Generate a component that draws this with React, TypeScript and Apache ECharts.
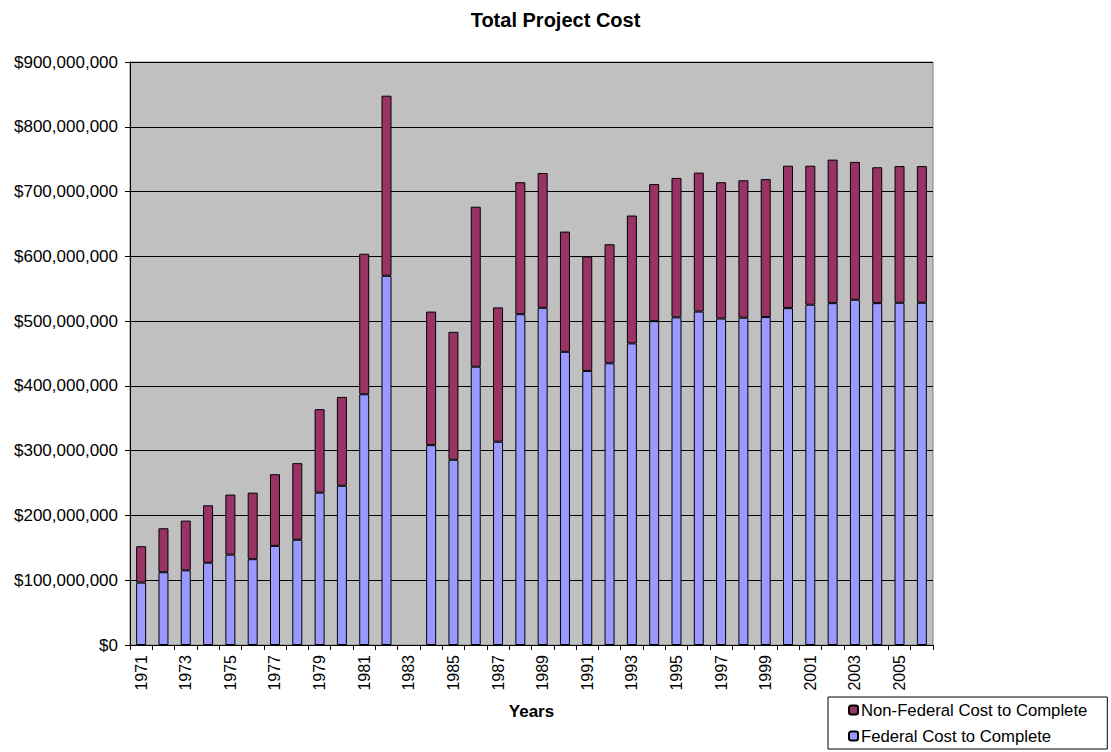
import React, { useEffect, useRef } from "react";
import * as echarts from "echarts";

const years: string[] = [
  "1971", "1972", "1973", "1974", "1975", "1976", "1977", "1978", "1979", "1980",
  "1981", "1982", "1983", "1984", "1985", "1986", "1987", "1988", "1989", "1990",
  "1991", "1992", "1993", "1994", "1995", "1996", "1997", "1998", "1999", "2000",
  "2001", "2002", "2003", "2004", "2005", "2006",
];

// Federal cost to complete (USD)
const federal: (number | null)[] = [
  96300000, 112300000, 115200000, 127000000, 139500000, 132400000, 153000000, 162500000, 235200000, 245800000,
  387000000, 570000000, null, 308500000, 286000000, 429600000, 313800000, 510600000, 520600000, 452600000,
  423100000, 434900000, 465600000, 499900000, 505800000, 514700000, 504000000, 505300000, 506400000, 520000000,
  525300000, 527700000, 533000000, 527700000, 528300000, 528300000,
];

// Total project cost (USD), used to derive non-federal share
const total: (number | null)[] = [
  152500000, 180200000, 192000000, 215700000, 232200000, 235200000, 263600000, 280700000, 364000000, 383000000,
  604000000, 848000000, null, 514700000, 483400000, 676600000, 521200000, 714400000, 728600000, 638200000,
  599800000, 618700000, 663000000, 711500000, 721000000, 729200000, 714400000, 717400000, 719200000, 739900000,
  739900000, 749300000, 745800000, 737500000, 739300000, 739300000,
];

const nonFederal: (number | null)[] = total.map((t, i) =>
  t == null || federal[i] == null ? null : t - (federal[i] as number)
);

const yTicks: number[] = [0, 100000000, 200000000, 300000000, 400000000, 500000000, 600000000, 700000000, 800000000, 900000000];

const FONT = "'Liberation Sans', Arial, sans-serif";

export default function App() {
  const ref = useRef<HTMLDivElement>(null);

  useEffect(() => {
    document.body.style.margin = "0";
    if (!ref.current) return;
    const chart = echarts.init(ref.current, null, { renderer: "svg" });
    chart.setOption({
      animation: false,
      backgroundColor: "#ffffff",
      textStyle: { fontFamily: FONT },
      title: {
        text: "Total Project Cost",
        left: "center",
        top: 5,
        textStyle: { fontFamily: FONT, fontSize: 20, fontWeight: "bold", color: "#000" },
      },
      legend: {
        orient: "vertical",
        left: 828,
        top: 697,
        width: 280,
        padding: [4, 20, 4, 20],
        itemGap: 8,
        itemWidth: 9,
        itemHeight: 9,
        borderColor: "#000",
        borderWidth: 1,
        data: ["Non-Federal Cost to Complete", "Federal Cost to Complete"],
        textStyle: { fontFamily: FONT, fontSize: 16.7, color: "#000", lineHeight: 18, padding: [0, 0, 0, -2] },
      },
      grid: {
        left: 130,
        right: 178,
        top: 62,
        bottom: 107,
        show: true,
        backgroundColor: "#C0C0C0",
        borderColor: "#808080",
        borderWidth: 1,
      },
      xAxis: {
        type: "category",
        data: years,
        name: "Years",
        nameLocation: "middle",
        nameGap: 58,
        nameTextStyle: { fontFamily: FONT, fontSize: 17, fontWeight: "bold", color: "#000" },
        axisLine: { show: true, lineStyle: { color: "#000", width: 1 } },
        axisTick: { show: true, interval: 0, length: 5, lineStyle: { color: "#000" } },
        axisLabel: {
          interval: 1,
          rotate: 90,
          margin: 10,
          fontFamily: FONT,
          fontSize: 16,
          color: "#000",
        },
      },
      yAxis: {
        type: "value",
        min: 0,
        max: 900000000,
        interval: 100000000,
        axisLine: { show: true, lineStyle: { color: "#000", width: 1 } },
        axisTick: { show: true, length: 5, lineStyle: { color: "#000" } },
        splitLine: { show: true, lineStyle: { color: "#000", width: 1 } },
        axisLabel: {
          margin: 12,
          fontFamily: FONT,
          fontSize: 17,
          color: "#000",
          formatter: (v: number) => (yTicks.includes(v) ? "$" + v.toLocaleString("en-US") : ""),
        },
      },
      series: [
        {
          name: "Federal Cost to Complete",
          type: "bar",
          stack: "cost",
          barWidth: 10,
          data: federal,
          itemStyle: { color: "#9999FF", borderColor: "#000", borderWidth: 1 },
        },
        {
          name: "Non-Federal Cost to Complete",
          type: "bar",
          stack: "cost",
          barWidth: 10,
          data: nonFederal,
          itemStyle: { color: "#993366", borderColor: "#000", borderWidth: 1 },
        },
      ],
    });
    return () => chart.dispose();
  }, []);

  return <div ref={ref} style={{ width: 1111, height: 752 }} />;
}
